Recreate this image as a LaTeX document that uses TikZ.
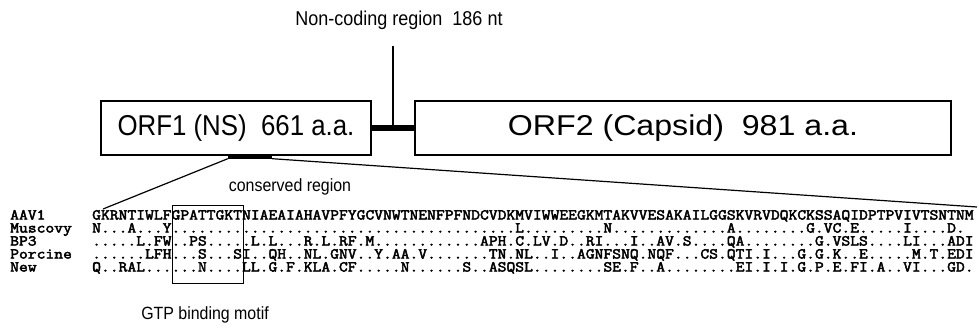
\documentclass[tikz,border=0pt]{standalone}
\usepackage{fontspec}
\setmainfont{Liberation Sans}
\newfontfamily\narrowfont{Liberation Sans}[FakeStretch=0.9]
\newfontfamily\wideorffont{Liberation Sans}[FakeStretch=1.12]
\newfontfamily\seqfont{Latin Modern Mono}[FakeStretch=1.141,AutoFakeBold=3]
\begin{document}
\begin{tikzpicture}[x=1pt,y=-1pt,
  orf/.style={draw,line width=1.2pt,minimum height=54pt,inner sep=0pt},
  seq/.style={anchor=west,inner sep=0pt,text height=9pt,text depth=2pt,font=\seqfont\bfseries\fontsize{15}{13}\selectfont},
  lbl/.style={inner sep=0pt,font=\narrowfont\fontsize{17.7}{17.7}\selectfont}]
\useasboundingbox (0,0) rectangle (979,335);
\node[orf,minimum width=270pt,font=\narrowfont\fontsize{28.7}{28.7}\selectfont] (orf1) at (236,128) {ORF1 (NS)\ \ 661 a.a.};
\node[orf,minimum width=536pt,font=\wideorffont\fontsize{28.7}{28.7}\selectfont] (orf2) at (683,128) {ORF2 (Capsid)\ \ 981 a.a.};
\node[lbl,font=\narrowfont\fontsize{20}{20}\selectfont] (nclbl) at (399,20) {Non-coding region\ \ 186 nt};
\coordinate (ncmid) at (392.5,128);
\coordinate (nctop) at (392.5,46);
\path[draw,line width=6pt] (orf1.east) -- (orf2.west);
\path[draw,line width=2pt] (ncmid) -- (nctop);

\node[fill,minimum width=44pt,minimum height=5pt,inner sep=0pt] (cons) at (250,156) {};
\node[lbl] (conslbl) at (290,187) {conserved region};
\coordinate (alnL) at (103,209);
\coordinate (alnR) at (977,207);
\path[draw,line width=1.2pt] (cons.south west) -- (alnL);
\path[draw,line width=1.2pt] (cons.south east) -- (alnR);

\node[seq] (aav1name) at (10,216) {AAV1};
\node[seq] (muscname) at (10,229) {Muscovy};
\node[seq] (bp3name) at (10,242) {BP3};
\node[seq] (porcname) at (10,255) {Porcine};
\node[seq] (newname) at (10,268) {New};
\node[seq] (aav1) at (92,216) {GKRNTIWLFGPATTGKTNIAEAIAHAVPFYGCVNWTNENFPFNDCVDKMVIWWEEGKMTAKVVESAKAILGGSKVRVDQKCKSSAQIDPTPVIVTSNTNM};
\node[seq] (musc) at (92,229) {N...A...Y.......................................L.........N.............A........G.VC.E.....I....D.};
\node[seq] (bp3) at (92,242) {.....L.FW..PS.....L.L...R.L.RF.M............APH.C.LV.D..RI...I..AV.S....QA........G.VSLS....LI...ADI};
\node[seq] (porc) at (92,255) {......LFH...S...SI..QH..NL.GNV..Y.AA.V.......TN.NL..I..AGNFSNQ.NQF...CS.QTI.I...G.G.K..E.....M.T.EDI};
\node[seq] (new) at (92,268) {Q..RAL......N....LL.G.F.KLA.CF.....N......S..ASQSL........SE.F..A........EI.I.I.G.P.E.FI.A..VI...GD.};

\node[draw,line width=1pt,minimum width=71pt,minimum height=78pt,inner sep=0pt] (motif) at (207.5,244) {};
\node[lbl] (motiflbl) at (205,315) {GTP binding motif};
\end{tikzpicture}
\end{document}
